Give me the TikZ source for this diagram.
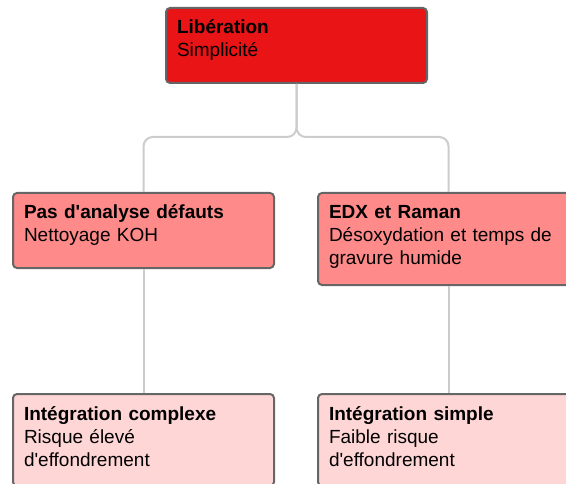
\documentclass[tikz,border=0pt]{standalone}
\usepackage{fontspec}
\setmainfont{Liberation Sans}
\usetikzlibrary{positioning}
\definecolor{rootred}{RGB}{232,20,22}
\definecolor{midred}{RGB}{255,138,138}
\definecolor{lowred}{RGB}{255,214,214}
\definecolor{boxline}{RGB}{102,102,102}
\definecolor{linkgray}{RGB}{204,204,204}

\begin{document}
\begin{tikzpicture}[
  x=0.75pt, y=-0.75pt,
  card/.style={rectangle, draw=boxline, line width=1.5pt, rounded corners=3pt,
               anchor=north west, text width=179.25pt, inner xsep=8.25pt, inner ysep=9pt,
               align=left, text height=10.5pt,
               font=\fontsize{14.25pt}{17.25pt}\selectfont},
  short/.style={text depth=27.75pt},
  tall/.style={text depth=40.5pt},
  link/.style={draw=linkgray, line width=1.5pt, rounded corners=7pt}
]
\clip (0,0) rectangle (566,484);

\node[card, short, fill=rootred] (lib) at (165,7) {\textbf{Libération}\\Simplicité};
\node[card, short, fill=midred] (pas) at (12,192) {\textbf{Pas d\textquotesingle analyse défauts}\\Nettoyage KOH};
\node[card, tall, fill=midred] (edx) at (317,192) {\textbf{EDX et Raman}\\Désoxydation et temps de\\gravure humide};
\node[card, tall, fill=lowred] (cplx) at (12,393) {\textbf{Intégration complexe}\\Risque élevé\\d\textquotesingle effondrement};
\node[card, tall, fill=lowred] (simp) at (317,393) {\textbf{Intégration simple}\\Faible risque\\d\textquotesingle effondrement};

\coordinate (split) at ([yshift=-39.75pt]lib.south);
\draw[link] (lib.south) -- (split) -| (pas.north);
\draw[link] (lib.south) -- (split) -| (edx.north);
\draw[link] (pas.south) -- (cplx.north);
\draw[link] (edx.south) -- (simp.north);

\end{tikzpicture}
\end{document}
